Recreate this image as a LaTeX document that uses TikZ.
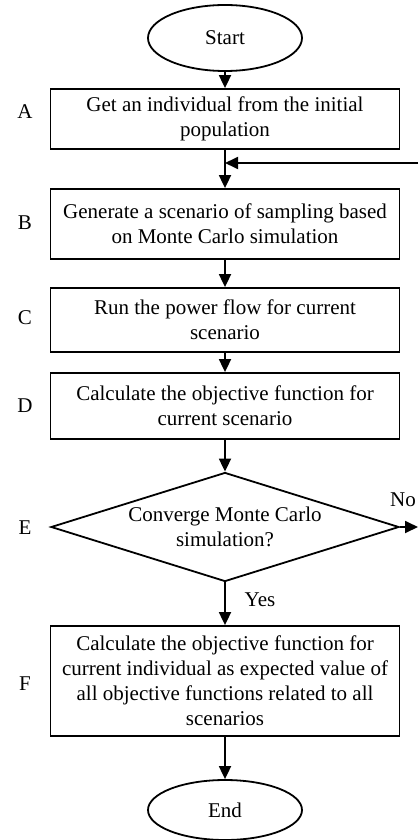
\documentclass[tikz,border=0pt]{standalone}
\usepackage{fontspec}
\setmainfont{Liberation Serif}
\usetikzlibrary{arrows.meta,shapes.geometric}

\tikzset{
  stepbox/.style={draw, line width=0.9pt, minimum width=174.5pt, align=center, inner sep=0pt},
  termnode/.style={draw, ellipse, line width=0.9pt, minimum width=77pt, minimum height=33pt, inner sep=0pt},
  decide/.style={draw, diamond, line width=0.9pt, aspect=3.2, inner sep=0pt, minimum width=174pt, minimum height=54.5pt, align=center},
  flow/.style={line width=0.9pt, -{Triangle[length=6.5pt,width=6pt]}}
}

\begin{document}
\begin{tikzpicture}[x=0.5pt,y=-0.5pt,font=\fontsize{10.5}{12.5}\selectfont]
	\useasboundingbox (0,0) rectangle (418,840);
	% terminals and steps
	\node[termnode] (start) at (225,38) {Start};
	\node[stepbox, minimum height=30pt] (A) at (225,119) {Get an individual from the initial\\population};
	\node[stepbox, minimum height=35pt] (B) at (225,224) {Generate a scenario of sampling based\\on Monte Carlo simulation};
	\node[stepbox, minimum height=32pt] (C) at (225,320) {Run the power flow for current\\scenario};
	\node[stepbox, minimum height=33pt] (D) at (225,406) {Calculate the objective function for\\current scenario};
	\node[decide] (E) at (225,527) {Converge Monte Carlo\\simulation?};
	\node[stepbox, minimum height=55pt] (F) at (225,681) {Calculate the objective function for\\current individual as expected value of\\all objective functions related to all\\scenarios};
	\node[termnode, minimum height=30pt] (end) at (225,810) {End};
	% step letters
	\node (lblA) at (25,112) {A};
	\node (lblB) at (25,223) {B};
	\node (lblC) at (25,318) {C};
	\node (lblD) at (25,406) {D};
	\node (lblE) at (25,528) {E};
	\node (lblF) at (25,684) {F};
	% connectors
	\coordinate (join) at (225,163);
	\coordinate (back) at (418,163);
	\coordinate (noend) at (418,527);
	\draw[flow] (start) -- (A);
	\draw[flow] (A) -- (B);
	\draw[flow] (back) -- (join);
	\draw[flow] (B) -- (C);
	\draw[flow] (C) -- (D);
	\draw[flow] (D) -- (E);
	\draw[flow] (E.east) -- (noend);
	\node (no) at (403,500) {No};
	\draw[flow] (E.south) -- (F.north);
	\node (yes) at (260,600) {Yes};
	\draw[flow] (F) -- (end);
\end{tikzpicture}
\end{document}
